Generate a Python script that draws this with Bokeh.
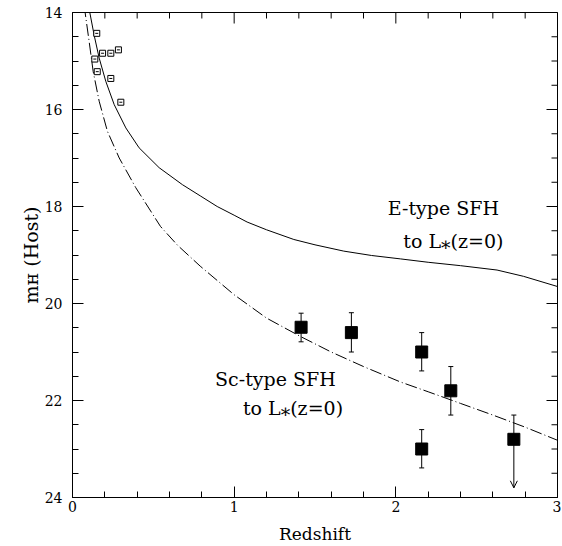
from bokeh.plotting import figure
from bokeh.models import (Range1d, LinearAxis, FixedTicker, Whisker, TeeHead,
                          OpenHead, ColumnDataSource)
from bokeh.core.properties import value
from bokeh.embed import file_html
from bokeh.resources import INLINE

# ---------------- data ----------------
# E-type SFH track to L*(z=0)
e_z = [0.100, 0.107, 0.134, 0.165, 0.206, 0.258, 0.330, 0.412, 0.536, 0.680,
       0.790, 0.895, 1.000, 1.080, 1.200, 1.369, 1.500, 1.678, 1.850, 2.028,
       2.200, 2.400, 2.626, 2.790, 3.000]
e_mag = [13.86, 14.00, 14.47, 14.94, 15.42, 15.90, 16.38, 16.79, 17.20, 17.55,
         17.78, 18.00, 18.18, 18.32, 18.48, 18.68, 18.79, 18.92, 19.01, 19.08,
         19.15, 19.22, 19.31, 19.44, 19.65]

# Sc-type SFH track to L*(z=0)
sc_z = [0.070, 0.078, 0.103, 0.128, 0.165, 0.216, 0.289, 0.391, 0.544, 0.650,
        0.790, 1.000, 1.200, 1.410, 1.600, 1.800, 2.030, 2.200, 2.400, 2.600,
        2.800, 3.000]
sc_mag = [13.85, 14.00, 14.60, 15.22, 15.83, 16.45, 17.00, 17.61, 18.41, 18.80,
          19.23, 19.82, 20.30, 20.68, 21.00, 21.30, 21.62, 21.82, 22.06, 22.30,
          22.55, 22.82]

# low-redshift hosts (open squares)
low_z = [0.150, 0.186, 0.237, 0.284, 0.138, 0.153, 0.237, 0.299]
low_mag = [14.43, 14.84, 14.84, 14.77, 14.96, 15.22, 15.36, 15.85]

# high-redshift hosts (filled squares with error bars)
high_z = [1.414, 1.725, 2.160, 2.340, 2.160]
high_mag = [20.49, 20.60, 21.00, 21.80, 23.00]
high_err_top = [20.20, 20.19, 20.60, 21.30, 22.60]
high_err_bottom = [20.79, 21.00, 21.39, 22.30, 23.39]

# upper limit point
lim_z = [2.73]
lim_mag = [22.80]
lim_err_top = [22.30]
lim_arrow_end = [23.80]

x_major = [0, 1, 2, 3]
x_minor = [0.2, 0.4, 0.6, 0.8, 1.2, 1.4, 1.6, 1.8, 2.2, 2.4, 2.6, 2.8]
y_major = [14, 16, 18, 20, 22, 24]
y_minor = [14.5, 15, 15.5, 16.5, 17, 17.5, 18.5, 19, 19.5, 20.5, 21, 21.5,
           22.5, 23, 23.5]

x_label = "Redshift"
y_label = "m\u029c (Host)"

SERIF = "DejaVu Serif"
H = 546

# ---------------- main figure ----------------
p = figure(width=561, height=H, output_backend="svg", toolbar_location=None,
           x_range=Range1d(0, 3), y_range=Range1d(24, 14),
           min_border_left=72, min_border_right=4, min_border_top=12,
           min_border_bottom=47, x_axis_location=None, y_axis_location=None)
p.xgrid.visible = False
p.ygrid.visible = False
p.outline_line_color = "black"
p.background_fill_color = "white"
p.border_fill_color = "white"


def style(ax, ticks, minor, standoff):
    ax.ticker = FixedTicker(ticks=ticks, minor_ticks=minor)
    ax.major_tick_in = 11
    ax.major_tick_out = 0
    ax.minor_tick_in = 6
    ax.minor_tick_out = 0
    ax.axis_line_color = "black"
    ax.major_tick_line_color = "black"
    ax.minor_tick_line_color = "black"
    ax.major_label_text_font = SERIF
    ax.major_label_text_font_size = "14px"
    ax.major_label_text_color = "black"
    ax.major_label_standoff = standoff
    ax.axis_label_text_font = SERIF
    ax.axis_label_text_font_style = "normal"
    ax.axis_label_text_color = "black"


xb = LinearAxis()
style(xb, x_major, x_minor, 3)
xb.axis_label = x_label
xb.axis_label_text_font_size = "17px"
xb.axis_label_standoff = 9
yl = LinearAxis()
style(yl, y_major, y_minor, 10)
yl.axis_label = y_label
yl.axis_label_text_font_size = "19px"
yl.axis_label_standoff = 0
p.add_layout(xb, "below")
p.add_layout(yl, "left")

# mirrored inward ticks on top and right (clipped half of a dash marker)
p.scatter(x_major, [14] * len(x_major), marker="dash", size=22, angle=1.5708,
          line_color="black", line_width=1)
p.scatter(x_minor, [14] * len(x_minor), marker="dash", size=12, angle=1.5708,
          line_color="black", line_width=1)
p.scatter([3] * len(y_major), y_major, marker="dash", size=22,
          line_color="black", line_width=1)
p.scatter([3] * len(y_minor), y_minor, marker="dash", size=12,
          line_color="black", line_width=1)

# model tracks
p.line(e_z, e_mag, line_color="black", line_width=1)
p.line(sc_z, sc_mag, line_color="black", line_width=1, line_dash="12 3 1 3")

# low-z points
p.scatter(low_z, low_mag, marker="square", size=6, fill_color="white",
          line_color="black", line_width=1)
p.scatter(low_z, low_mag, marker="dash", size=3, line_color="black",
          line_width=1)

# high-z error bars
hs = ColumnDataSource(dict(x=high_z, y=high_mag, lo=high_err_bottom,
                           hi=high_err_top))
p.add_layout(Whisker(base="x", lower="lo", upper="hi", source=hs,
                     dimension="height", line_color="black", line_width=1,
                     lower_head=TeeHead(size=5, line_color="black"),
                     upper_head=TeeHead(size=5, line_color="black")))
ls = ColumnDataSource(dict(x=lim_z, y=lim_mag, lo=lim_arrow_end,
                           hi=lim_err_top))
p.add_layout(Whisker(base="x", lower="lo", upper="hi", source=ls,
                     dimension="height", line_color="black", line_width=1,
                     lower_head=OpenHead(size=7, line_color="black"),
                     upper_head=TeeHead(size=5, line_color="black")))

p.scatter(high_z, high_mag, marker="square", size=12, color="black")
p.scatter(lim_z, lim_mag, marker="square", size=12, color="black")

# in-plot annotations
p.text([2.294, 2.356, 1.255, 1.364], [18.04, 18.72, 21.56, 22.15],
       text=["E-type SFH", "to L\u204e(z=0)", "Sc-type SFH", "to L\u204e(z=0)"],
       text_font=value(SERIF), text_font_size="19px", text_align="center",
       text_baseline="middle", text_color="black")

open("out.html", "w").write(file_html(p, INLINE))
